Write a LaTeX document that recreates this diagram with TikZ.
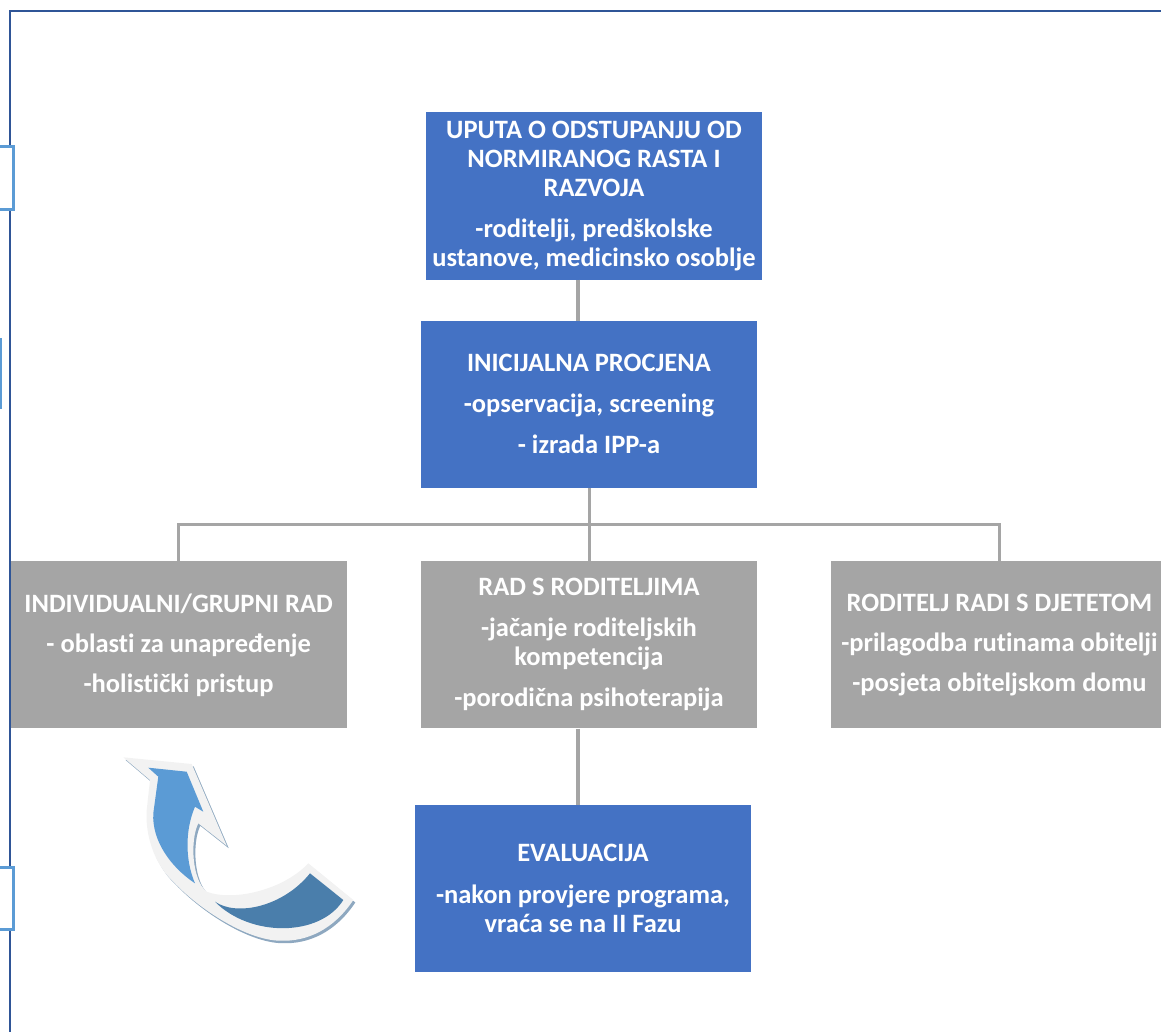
\documentclass[tikz,border=0pt]{standalone}
\usepackage{fontspec}
\setmainfont{Carlito}[Ligatures=NoCommon]
\usetikzlibrary{positioning}
\definecolor{boxblue}{HTML}{4472C4}
\definecolor{boxgray}{HTML}{A5A5A5}
\definecolor{frameblue}{HTML}{2F5597}
\definecolor{tabblue}{HTML}{5B9BD5}
\definecolor{tailblue}{HTML}{4A7EAB}
\definecolor{shadowblue}{HTML}{8EA8C0}
\definecolor{ribbon}{HTML}{F2F2F2}
\newcommand{\bendoutline}{(123.3,757.3) -- (191.7,764) -- (226.7,845.7) -- (198.3,823.3)
  .. controls (190,840) and (191.7,880) .. (206.7,891.7)
  .. controls (233.3,901.7) and (283.3,890) .. (308.3,863.3) -- (353.3,900)
  .. controls (333.3,930) and (306.7,941.7) .. (280,940.7)
  .. controls (246.7,940) and (200,910) .. (173.3,881.7)
  .. controls (153.3,863.3) and (145,833.3) .. (146.7,810) -- (150,780) -- cycle}
\begin{document}
\begin{tikzpicture}[x=1pt, y=-1pt, node distance=74pt,
  main/.style = {minimum width=336pt, minimum height=167pt, inner sep=1pt, align=center, text=white, font=\fontsize{26.5}{29}\selectfont\bfseries},
  phase/.style = {main, fill=boxblue},
  task/.style = {main, fill=boxgray},
  link/.style = {draw=boxgray, line width=4pt},
  tree/.style = {draw=boxgray, line width=3pt}]
  \useasboundingbox (0,0) rectangle (1161,1032);
  \clip (0,0) rectangle (1161,1032);
  \draw[frameblue, line width=2pt] (10,1040) -- (10,11) -- (1170,11);
  \draw[tabblue, fill=white, line width=3pt] (-20,146.5) rectangle (13.5,209.5);
  \draw[tabblue, line width=3pt] (-40,339) rectangle (0.5,407);
  \draw[tabblue, fill=white, line width=3pt] (-20,867.5) rectangle (13.5,929);
  \node[phase] (1) at (594,196) {UPUTA O ODSTUPANJU OD\\NORMIRANOG RASTA I\\RAZVOJA\\[12pt]-roditelji, predškolske\\ustanove, medicinsko osoblje};
  \node[phase, below=41pt of 1, xshift=-5pt] (2) {INICIJALNA PROCJENA\\[12pt]-opservacija, screening\\[12pt]- izrada IPP-a};
  \node[task, below=73pt of 2] (4) {RAD S RODITELJIMA\\[12pt]-jačanje roditeljskih\\kompetencija\\[12pt]-porodična psihoterapija};
  \node[task, left=of 4] (3) {INDIVIDUALNI/GRUPNI RAD\\[11pt]- oblasti za unapređenje\\[11pt]-holistički pristup};
  \node[task, right=of 4] (5) {RODITELJ RADI S DJETETOM\\[11pt]-prilagodba rutinama obitelji\\[11pt]-posjeta obiteljskom domu};
  \node[phase, below=76pt of 4, xshift=-6pt] (6) {EVALUACIJA\\[13pt]-nakon provjere programa,\\vraća se na II Fazu};
  \draw[link] ([xshift=-16pt]1.south) -- ([xshift=-11pt]2.north);
  \draw[tree] (2.south) -- ++(0,36) coordinate (fork);
  \draw[tree] (3.north) |- (fork) -| (5.north);
  \draw[tree] (fork) -- (4.north);
  \draw[link] ([xshift=-11pt]4.south) -- ([xshift=-5pt]6.north);
  \fill[shadowblue, shift={(2,2.5)}] \bendoutline;
  \fill[ribbon] \bendoutline;
  \fill[tabblue] (148.3,767.7) -- (186.7,771.7) -- (203.3,811.7) -- (195,806.7)
    .. controls (185,830) and (185,860) .. (195,883.3)
    .. controls (170,866.7) and (151.7,840) .. (153.3,813.3) -- (158.3,776.7) -- cycle;
  \fill[tailblue] (215,901.7) .. controls (236.7,916.7) and (283.3,906.7) .. (310,873.3) -- (343.3,900)
    .. controls (320,937.3) and (250,937.3) .. (215,901.7) -- cycle;
\end{tikzpicture}
\end{document}
